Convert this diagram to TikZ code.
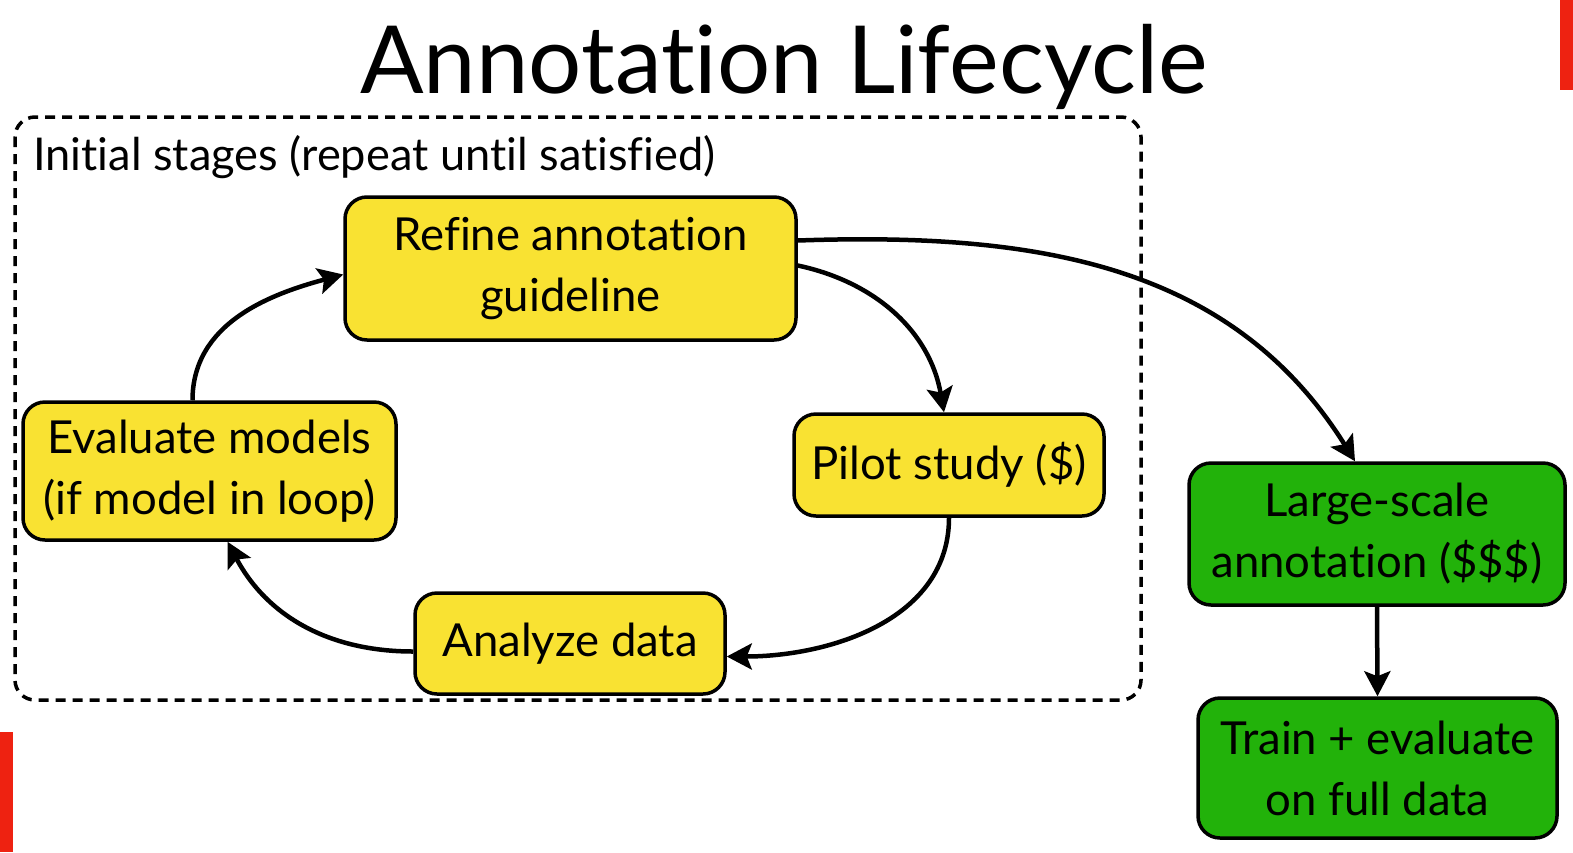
\documentclass[tikz,border=0pt]{standalone}
\usepackage{fontspec}
\setmainfont{Lato}[Ligatures={NoCommon,NoRequired,NoContextual}]
\usetikzlibrary{arrows.meta}
\definecolor{boxyellow}{RGB}{249,226,50}
\definecolor{boxgreen}{RGB}{34,178,10}
\definecolor{barred}{RGB}{238,34,17}
\begin{document}
\begin{tikzpicture}[x=1pt,y=-1pt,
  stagebox/.style={draw=black, line width=3.5pt, rounded corners=22pt, inner sep=0pt, align=center,
     font=\fontsize{45.5}{61}\selectfont},
  yellowbox/.style={stagebox, fill=boxyellow},
  greenbox/.style={stagebox, fill=boxgreen},
  flow/.style={line width=4.5pt, -{Stealth[length=25pt,width=26pt,inset=5pt]}}]
\useasboundingbox (0,0) rectangle (1573,852);
\fill[barred] (1560,0) rectangle (1573,90);
\fill[barred] (0,732) rectangle (13,852);
\node (title) at (784,67) {\fontsize{94}{100}\selectfont Annotation Lifecycle};
\draw[line width=3.5pt, dash pattern=on 10pt off 7pt, rounded corners=20pt] (15,117) rectangle (1141,700);
\node[anchor=base west, inner sep=0pt] (initlabel) at (33,170) {\fontsize{45.2}{50}\selectfont Initial stages (repeat until satisfied)};
\node[yellowbox, minimum width=451pt, minimum height=143pt] (refine) at (570.5,268.5) {Refine annotation\\guideline};
\node[yellowbox, minimum width=310pt, minimum height=102pt] (pilot) at (949,465) {Pilot study (\$)};
\node[yellowbox, minimum width=310pt, minimum height=101pt] (analyze) at (570,643.5) {Analyze data};
\node[yellowbox, minimum width=373pt, minimum height=138pt] (evaluate) at (209.5,471) {Evaluate models\\(if model in loop)};
\node[greenbox, minimum width=376pt, minimum height=142pt] (large) at (1377,534) {Large-scale\\annotation (\$\$\$)};
\node[greenbox, minimum width=359pt, minimum height=140pt] (train) at (1377.5,768) {Train + evaluate\\on full data};
\draw[flow] ([yshift=3pt]refine.east) to[out=-12, in=100] ([xshift=-5pt]pilot.north);
\draw[flow] (pilot.south) to[out=-90, in=0] ([yshift=-13pt]analyze.east);
\draw[flow] ([yshift=-8pt]analyze.west) to[out=180, in=-62] ([xshift=18pt]evaluate.south);
\draw[flow] ([xshift=-17pt]evaluate.north) to[out=90, in=195] ([yshift=-6pt]refine.west);
\draw[flow] ([yshift=28pt]refine.east) to[out=2, in=122] ([xshift=-22pt]large.north);
\draw[flow] (large.south) -- (train.north);
\end{tikzpicture}
\end{document}
